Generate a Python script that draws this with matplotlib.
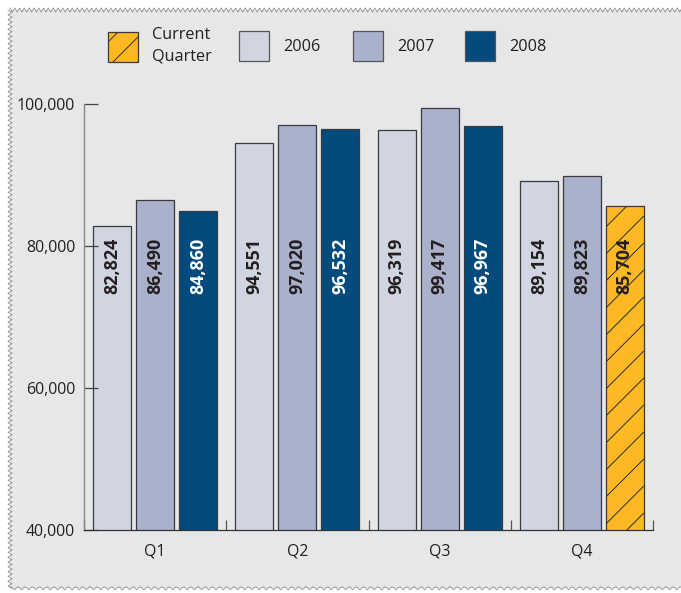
import matplotlib.pyplot as plt
import numpy as np
from matplotlib.patches import Patch, Rectangle
from matplotlib.lines import Line2D
from matplotlib.collections import LineCollection

quarters = ['Q1', 'Q2', 'Q3', 'Q4']
sales_2006 = [82824, 94551, 96319, 89154]
sales_2007 = [86490, 97020, 99417, 89823]
sales_2008 = [84860, 96532, 96967, 85704]
current_q = 3  # 2008 Q4 is the quarter in progress
yticks = [40000, 60000, 80000, 100000]

c2006 = '#d1d5e1'
c2007 = '#aab1cb'
c2008 = '#024b7c'
ccur = '#fdb924'
edge = '#3a3a3a'
txt = '#231f20'
bg = '#e6e7e8'

plt.rcParams['font.family'] = ['Open Sans', 'DejaVu Sans']
plt.rcParams['hatch.linewidth'] = 0.5
plt.rcParams['hatch.color'] = '#333333'

W, H = 681, 593
fig = plt.figure(figsize=(W / 150, H / 150), dpi=150, facecolor='white')

# grey panel behind everything
fig.patches.append(Rectangle((10 / W, 5 / H), 1 - 10 / W, 1 - 15 / H,
                             transform=fig.transFigure, facecolor=bg,
                             edgecolor='none', zorder=-5))

# ragged edges of the panel
xs = np.arange(10, W + 3, 2.4)
ys = np.where(np.arange(len(xs)) % 2 == 0, 8, 12)
fig.add_artist(Line2D(xs / W, 1 - ys / H, transform=fig.transFigure,
                      color='#8c8c8c', lw=0.4, zorder=-4))
ys = np.arange(10, 590, 2.4)
xs = np.where(np.arange(len(ys)) % 2 == 0, 8, 12)
fig.add_artist(Line2D(xs / W, 1 - ys / H, transform=fig.transFigure,
                      color='#8c8c8c', lw=0.4, zorder=-4))
xs = np.linspace(10, W, 1200)
ys = 590 - 3 * np.abs(np.sin(np.pi * xs / 7.2))
fig.add_artist(Line2D(xs / W, 1 - ys / H, transform=fig.transFigure,
                      color='#8c8c8c', lw=0.4, zorder=-4))

ax = fig.add_axes([84 / W, 1 - 530 / H, (653 - 84) / W, (530 - 104) / H])
ax.set_facecolor('none')
ax.set_xlim(-0.5, 3.5)
ax.set_ylim(40000, 100000)

x = np.arange(len(quarters))
w = 0.267
off = 0.302
bars06 = ax.bar(x - off, sales_2006, w, color=c2006, edgecolor=edge, lw=0.6)
bars07 = ax.bar(x, sales_2007, w, color=c2007, edgecolor=edge, lw=0.6)
bars08 = ax.bar(x + off, sales_2008, w, color=c2008, edgecolor=edge, lw=0.6)
cur = bars08[current_q]
cur.set_facecolor(ccur)

# diagonal hatching on the current-quarter bar, spaced in pixels
ybot = ax.get_ylim()[0]
trans = ax.transData
(px0, py0) = trans.transform((cur.get_x(), ybot))
(px1, py1) = trans.transform((cur.get_x() + cur.get_width(), cur.get_height()))
segs = []
for c in np.arange(py0 - (px1 - px0) - 10, py1 + 10, 27):
    a = trans.inverted().transform((px0, c))
    b = trans.inverted().transform((px1, c + (px1 - px0)))
    segs.append([a, b])
hatch = LineCollection(segs, colors='#333333', linewidths=0.5, zorder=2.5)
ax.add_collection(hatch, autolim=False)
visible = Rectangle((cur.get_x(), ybot), cur.get_width(),
                    cur.get_height() - ybot, transform=ax.transData)
hatch.set_clip_path(visible)

# values written upward inside the bars
label_base = 73200
for bars, vals, col in [(bars06, sales_2006, txt), (bars07, sales_2007, txt),
                        (bars08, sales_2008, 'white')]:
    for i, (b, v) in enumerate(zip(bars, vals)):
        c = col
        if bars is bars08 and i == current_q:
            c = txt
        ax.text(b.get_x() + b.get_width() / 2, label_base, f'{v:,}',
                rotation=90, ha='center', va='bottom', fontsize=8.6,
                fontweight='bold', color=c, zorder=3)

ax.set_yticks(yticks)
ax.set_yticklabels([f'{t:,}' for t in yticks])
ax.set_xticks(x)
ax.set_xticklabels(quarters)
ax.set_xticks(np.arange(-0.5, 4, 1), minor=True)

for s in ['top', 'right']:
    ax.spines[s].set_visible(False)
ax.spines['left'].set_color('#8a8a8a')
ax.spines['left'].set_linewidth(0.7)
ax.spines['bottom'].set_color('#333333')
ax.spines['bottom'].set_linewidth(0.6)

ax.tick_params(axis='y', direction='in', length=6.7, width=0.6,
               color='#444444', pad=4.3, labelsize=7.6, labelcolor=txt)
ax.tick_params(axis='x', which='major', length=0, pad=6.5,
               labelsize=7.6, labelcolor=txt)
ax.tick_params(axis='x', which='minor', direction='in', length=4.8,
               width=0.6, color='#555555')

# key across the top, one entry at a time so each sits where it should
handles = [Patch(facecolor=ccur, edgecolor=edge, hatch='//', lw=0.6),
           Patch(facecolor=c2006, edgecolor='#555555', lw=0.6),
           Patch(facecolor=c2007, edgecolor='#555555', lw=0.6),
           Patch(facecolor=c2008, edgecolor='#555555', lw=0.6)]
labels = ['Current\nQuarter', '2006', '2007', '2008']
key_x = [108, 239, 353, 465]
for h, lab, kx in zip(handles, labels, key_x):
    leg = fig.legend([h], [lab], loc='center left',
                     bbox_to_anchor=(kx / W, 1 - 46 / H), frameon=False,
                     fontsize=7.8, handlelength=1.85, handleheight=2.52,
                     handletextpad=0.88, borderpad=0, borderaxespad=0,
                     labelcolor=txt)
    for t in leg.get_texts():
        t.set_linespacing(1.45)

fig.savefig('out.png', dpi=150, facecolor='white')
